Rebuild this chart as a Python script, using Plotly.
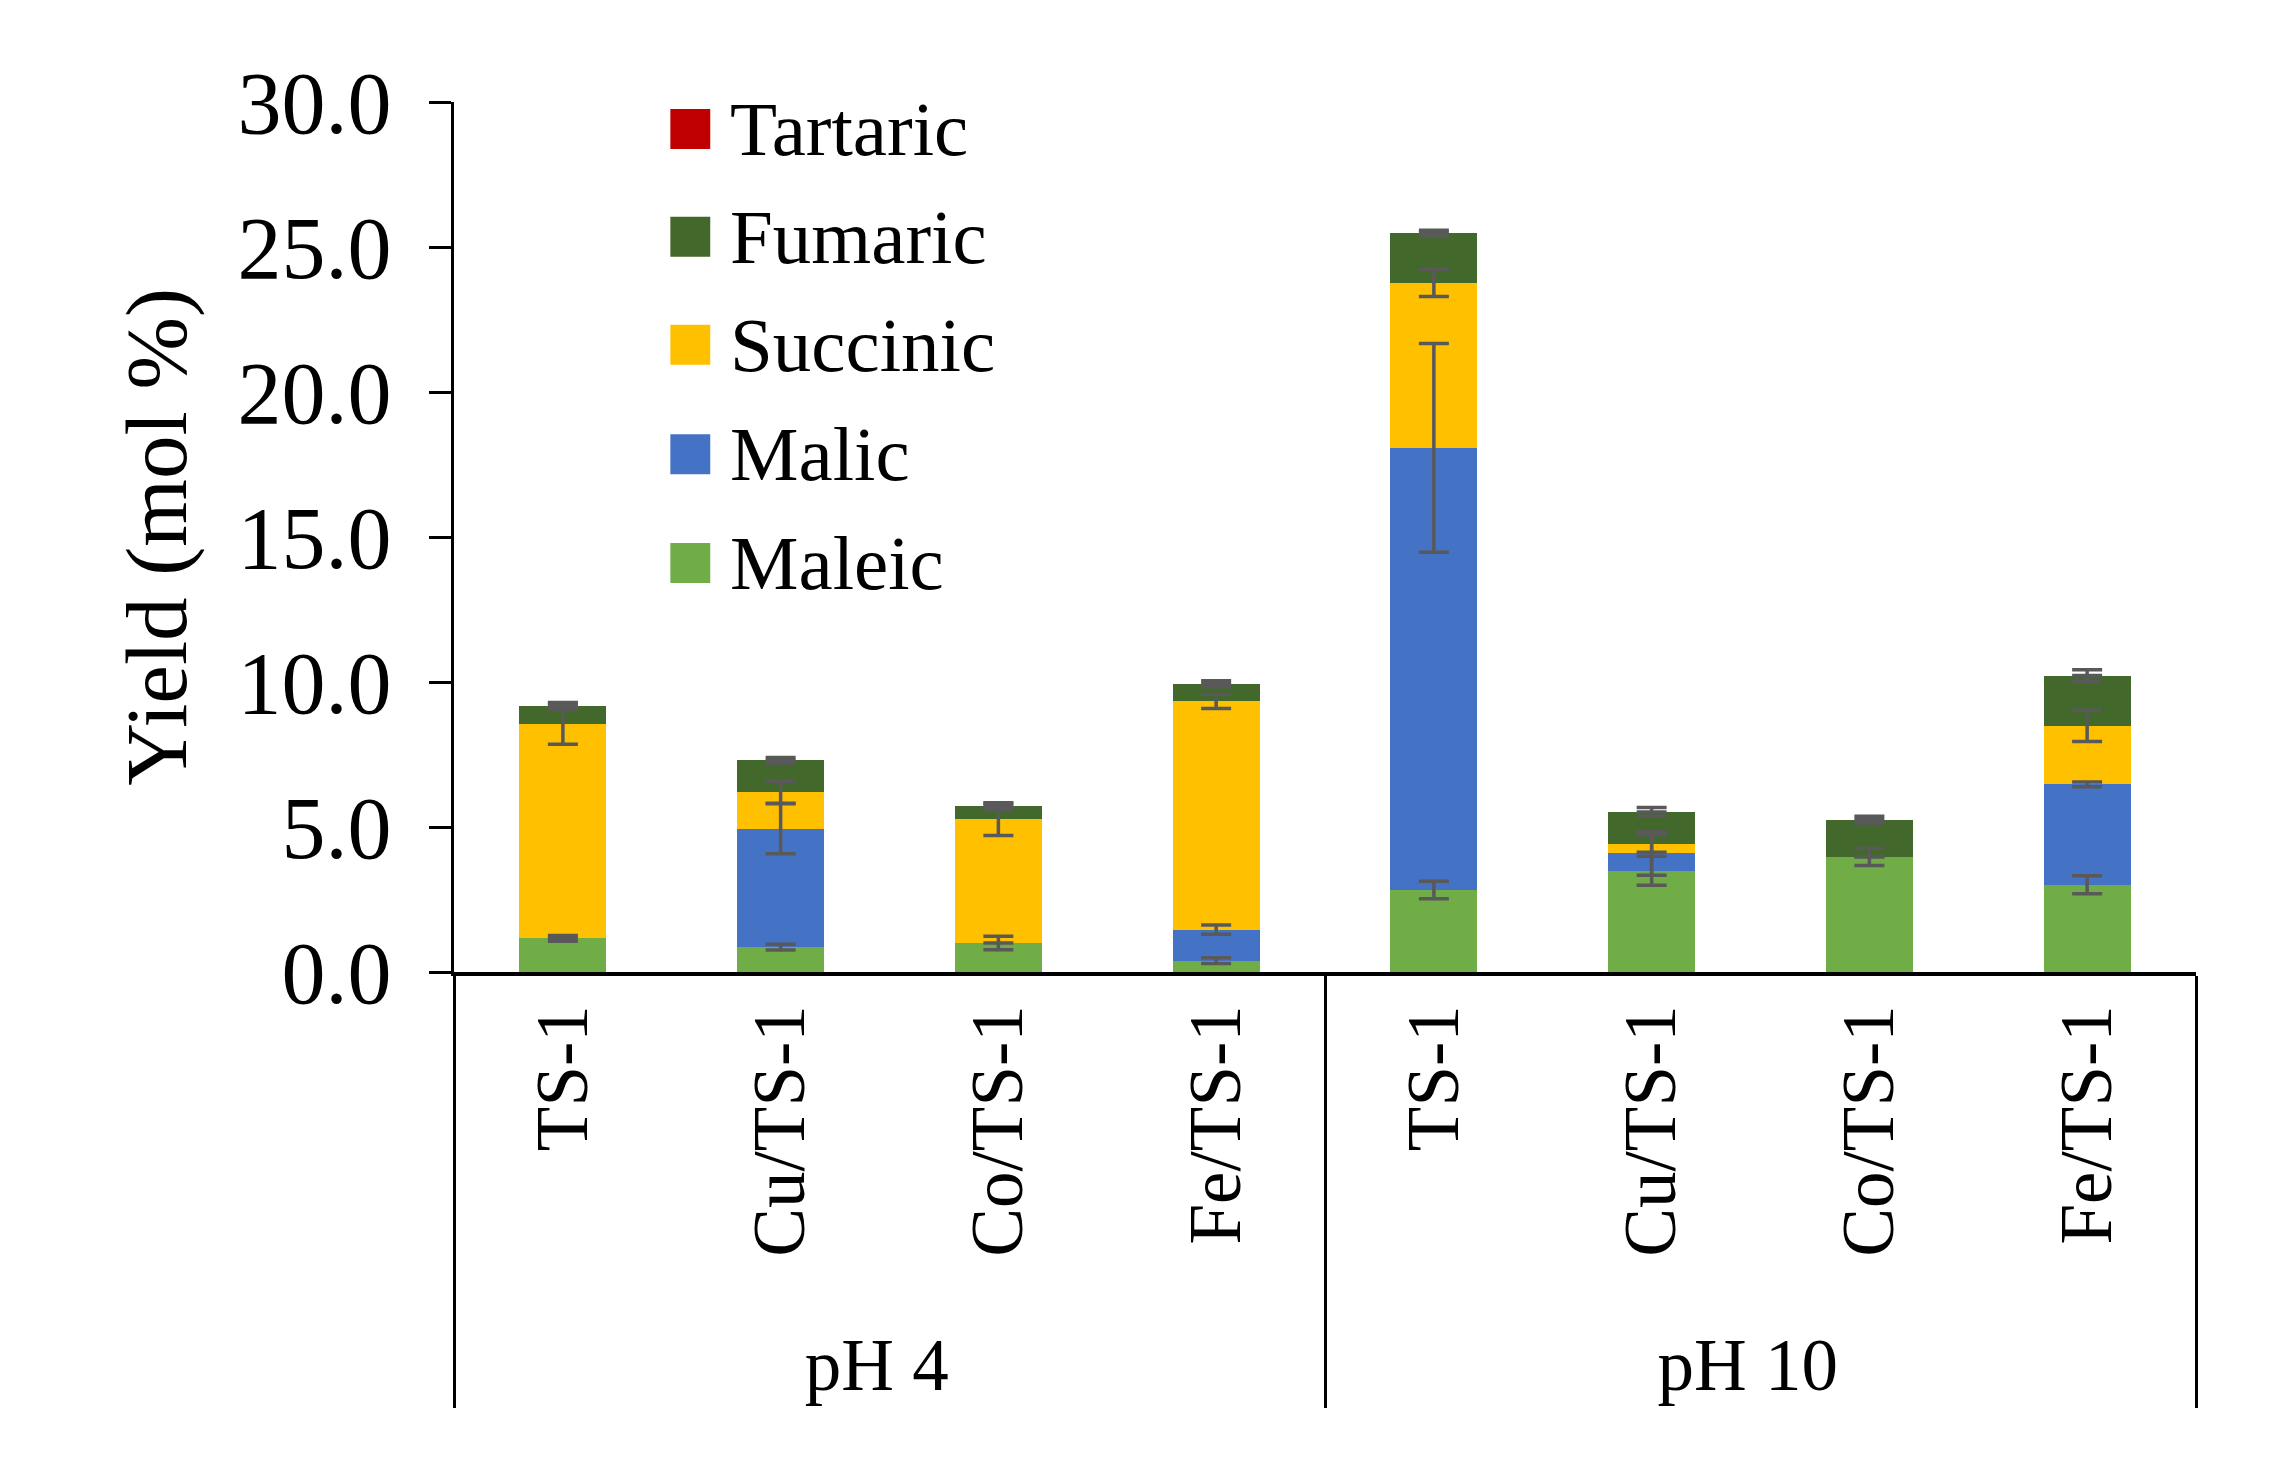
import plotly.graph_objects as go

# categories (two-level x axis)
ph_groups = ["pH 4", "pH 4", "pH 4", "pH 4", "pH 10", "pH 10", "pH 10", "pH 10"]
catalysts = ["TS-1", "Cu/TS-1", "Co/TS-1", "Fe/TS-1", "TS-1", "Cu/TS-1", "Co/TS-1", "Fe/TS-1"]

# segment yields (mol %)
maleic = [1.16, 0.86, 1.00, 0.39, 2.83, 3.49, 3.97, 3.01]
malic = [0.0, 4.08, 0.0, 1.07, 15.24, 0.60, 0.0, 3.46]
succinic = [7.40, 1.26, 4.26, 7.87, 5.69, 0.34, 0.0, 2.02]
fumaric = [0.61, 1.10, 0.46, 0.61, 1.72, 1.09, 1.28, 1.73]
tartaric = [0.0, 0.0, 0.0, 0.0, 0.0, 0.0, 0.0, 0.0]

# error bars (+/-)
maleic_err = [0.10, 0.10, 0.23, 0.10, 0.30, 0.50, 0.30, 0.31]
malic_err = [0.0, 0.86, 0.0, 0.16, 3.60, 0.75, 0.0, 0.08]
succinic_err = [0.71, 0.38, 0.55, 0.24, 0.47, 0.30, 0.0, 0.54]
fumaric_err = [0.12, 0.10, 0.12, 0.10, 0.10, 0.15, 0.12, 0.20]
tartaric_err = [0.0, 0.0, 0.0, 0.0, 0.0, 0.0, 0.0, 0.0]

series = [
    ("Maleic", maleic, maleic_err, "#70AD47"),
    ("Malic", malic, malic_err, "#4472C4"),
    ("Succinic", succinic, succinic_err, "#FFC000"),
    ("Fumaric", fumaric, fumaric_err, "#43682B"),
    ("Tartaric", tartaric, tartaric_err, "#C00000"),
]

FONT = "Liberation Serif, Times New Roman, serif"
x_cats = [ph_groups, catalysts]

fig = go.Figure()
for name, vals, errs, color in series:
    fig.add_trace(go.Bar(
        x=x_cats, y=vals, name=name,
        marker=dict(color=color, line=dict(width=0)),
        showlegend=False,
    ))

# error bars sit on top of each stacked segment and above every bar (as in Excel)
running = [0.0] * len(catalysts)
for name, vals, errs, color in series:
    running = [r + v for r, v in zip(running, vals)]
    fig.add_trace(go.Scatter(
        x=x_cats, y=running, mode="markers",
        marker=dict(size=1, opacity=0),
        error_y=dict(type="data", array=errs, color="#595959", thickness=3.5, width=15),
        showlegend=False, hoverinfo="skip",
    ))

# legend drawn by hand so the colour squares match the large text
legend_rows = [0.969, 0.845, 0.721, 0.595, 0.470]
for (name, _, _, color), yy in zip(reversed(series), legend_rows):
    fig.add_shape(type="rect", xref="paper", yref="paper",
                  x0=0.1242, x1=0.1471, y0=yy - 0.023, y1=yy + 0.023,
                  fillcolor=color, line=dict(width=0))
    fig.add_annotation(x=0.1572, y=yy, xref="paper", yref="paper", text=name,
                       showarrow=False, xanchor="left", yanchor="middle",
                       font=dict(family=FONT, size=77, color="black"))

fig.update_layout(
    width=2278, height=1454,
    barmode="stack", bargap=0.6,
    plot_bgcolor="white", paper_bgcolor="white",
    margin=dict(l=446, r=90, t=94, b=490),
    font=dict(family=FONT, color="black"),
)
fig.update_yaxes(
    range=[0, 30], dtick=5, tickformat=".1f",
    showline=True, linecolor="black", linewidth=3,
    ticks="outside", ticklen=22, tickwidth=3, tickcolor="black",
    ticklabelstandoff=20,
    showgrid=False, zeroline=False,
    tickfont=dict(family=FONT, size=88),
    title=dict(text="Yield (mol %)", font=dict(family=FONT, size=87), standoff=22),
)
fig.update_xaxes(
    type="multicategory",
    showline=True, linecolor="black", linewidth=4,
    showgrid=False, tickangle=-90,
    tickfont=dict(family=FONT, size=73),
    showdividers=True, dividercolor="black", dividerwidth=3,
)

fig.write_html("out.html")
